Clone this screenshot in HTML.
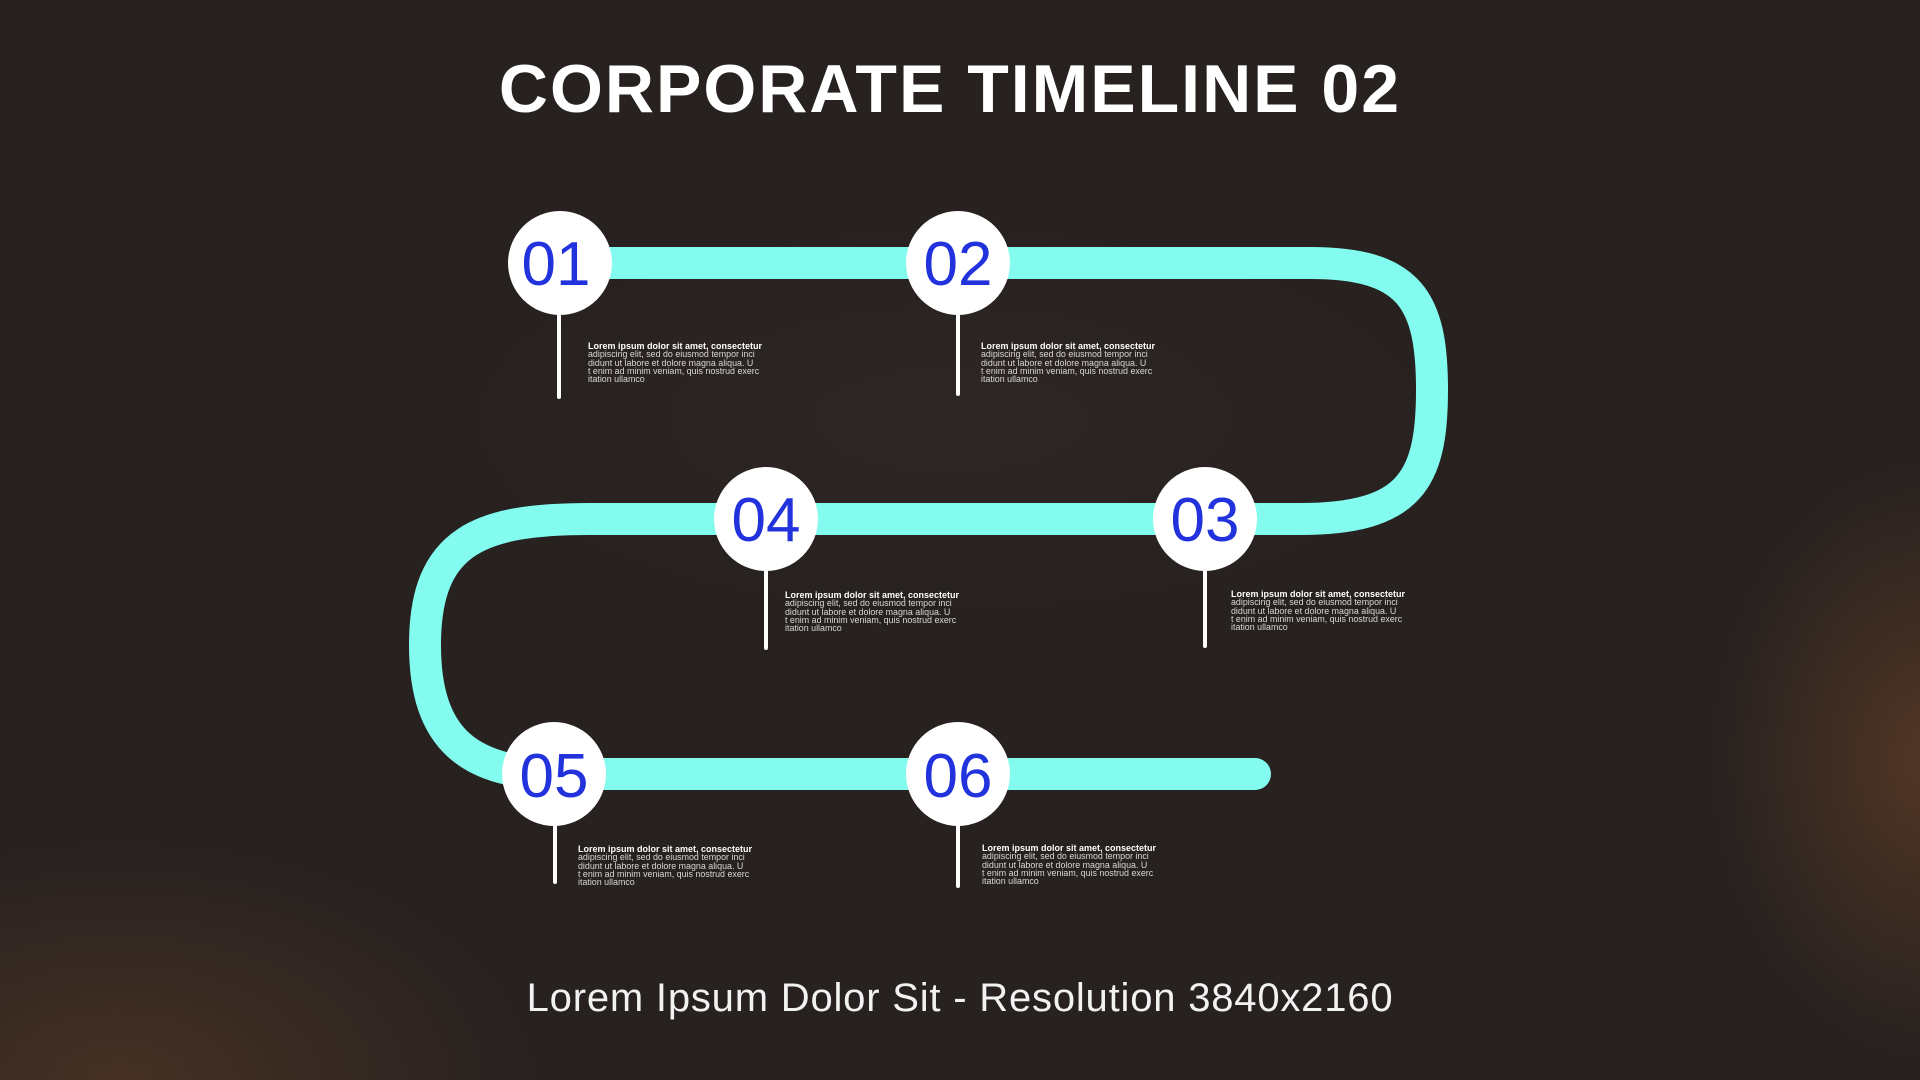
<!DOCTYPE html>
<html><head><meta charset="utf-8"><style>
html,body{margin:0;padding:0}
body{width:1920px;height:1080px;position:relative;overflow:hidden;font-family:"Liberation Sans",sans-serif;
background:
radial-gradient(ellipse 220px 300px at 1930px 760px, rgba(110,68,40,0.6), rgba(110,68,40,0) 100%),
radial-gradient(ellipse 420px 240px at 120px 1080px, rgba(100,65,40,0.5), rgba(100,65,40,0) 100%),
radial-gradient(ellipse 500px 200px at 950px 420px, rgba(60,50,45,0.3), rgba(60,50,45,0) 100%),
#272120;}
.t{position:absolute;left:0;width:1920px;text-align:center;color:#fff}
.txt{position:absolute;color:#d8d8d8;font-size:8.9px;line-height:8.3px;width:200px}
.txt b{color:#fff;font-size:9px}
</style></head><body>
<div class="t" style="top:50px;font-size:68px;font-weight:bold;letter-spacing:2px;text-indent:-20px">CORPORATE TIMELINE 02</div>
<svg width="1920" height="1080" style="position:absolute;left:0;top:0">
<path d="M560 263 L1310 263 C1410 263 1432 300 1432 390 C1432 480 1410 519 1300 519 L590 519 C480 519 425 540 425 645 C425 740 470 774 560 774 L1255 774" fill="none" stroke="#83fcef" stroke-width="32" stroke-linecap="round"/>
<g stroke="#fff" stroke-width="4" stroke-linecap="round">
<line x1="559" y1="300" x2="559" y2="397"/>
<line x1="958" y1="300" x2="958" y2="394"/>
<line x1="766" y1="555" x2="766" y2="648"/>
<line x1="1205" y1="555" x2="1205" y2="646"/>
<line x1="555" y1="810" x2="555" y2="882"/>
<line x1="958" y1="810" x2="958" y2="886"/>
</g>
<g fill="#fff">
<circle cx="560" cy="263" r="52"/><circle cx="958" cy="263" r="52"/>
<circle cx="1205" cy="519" r="52"/><circle cx="766" cy="519" r="52"/>
<circle cx="554" cy="774" r="52"/><circle cx="958" cy="774" r="52"/>
</g>
<g fill="#2233dd" font-family="Liberation Sans, sans-serif" font-size="62" text-anchor="middle">
<text x="556" y="285">01</text><text x="958" y="285">02</text>
<text x="1205" y="541">03</text><text x="766" y="541">04</text>
<text x="554" y="797">05</text><text x="958" y="797">06</text>
</g>
</svg>
<div class="txt" style="left:588px;top:342px"><b>Lorem ipsum dolor sit amet, consectetur</b><br>adipiscing elit, sed do eiusmod tempor inci<br>didunt ut labore et dolore magna aliqua. U<br>t enim ad minim veniam, quis nostrud exerc<br>itation ullamco</div>
<div class="txt" style="left:981px;top:342px"><b>Lorem ipsum dolor sit amet, consectetur</b><br>adipiscing elit, sed do eiusmod tempor inci<br>didunt ut labore et dolore magna aliqua. U<br>t enim ad minim veniam, quis nostrud exerc<br>itation ullamco</div>
<div class="txt" style="left:785px;top:591px"><b>Lorem ipsum dolor sit amet, consectetur</b><br>adipiscing elit, sed do eiusmod tempor inci<br>didunt ut labore et dolore magna aliqua. U<br>t enim ad minim veniam, quis nostrud exerc<br>itation ullamco</div>
<div class="txt" style="left:1231px;top:590px"><b>Lorem ipsum dolor sit amet, consectetur</b><br>adipiscing elit, sed do eiusmod tempor inci<br>didunt ut labore et dolore magna aliqua. U<br>t enim ad minim veniam, quis nostrud exerc<br>itation ullamco</div>
<div class="txt" style="left:578px;top:845px"><b>Lorem ipsum dolor sit amet, consectetur</b><br>adipiscing elit, sed do eiusmod tempor inci<br>didunt ut labore et dolore magna aliqua. U<br>t enim ad minim veniam, quis nostrud exerc<br>itation ullamco</div>
<div class="txt" style="left:982px;top:844px"><b>Lorem ipsum dolor sit amet, consectetur</b><br>adipiscing elit, sed do eiusmod tempor inci<br>didunt ut labore et dolore magna aliqua. U<br>t enim ad minim veniam, quis nostrud exerc<br>itation ullamco</div>
<div class="t" style="top:976px;font-size:40px;letter-spacing:0.8px;color:#f2f2f2">Lorem Ipsum Dolor Sit - Resolution 3840x2160</div>
</body></html>
